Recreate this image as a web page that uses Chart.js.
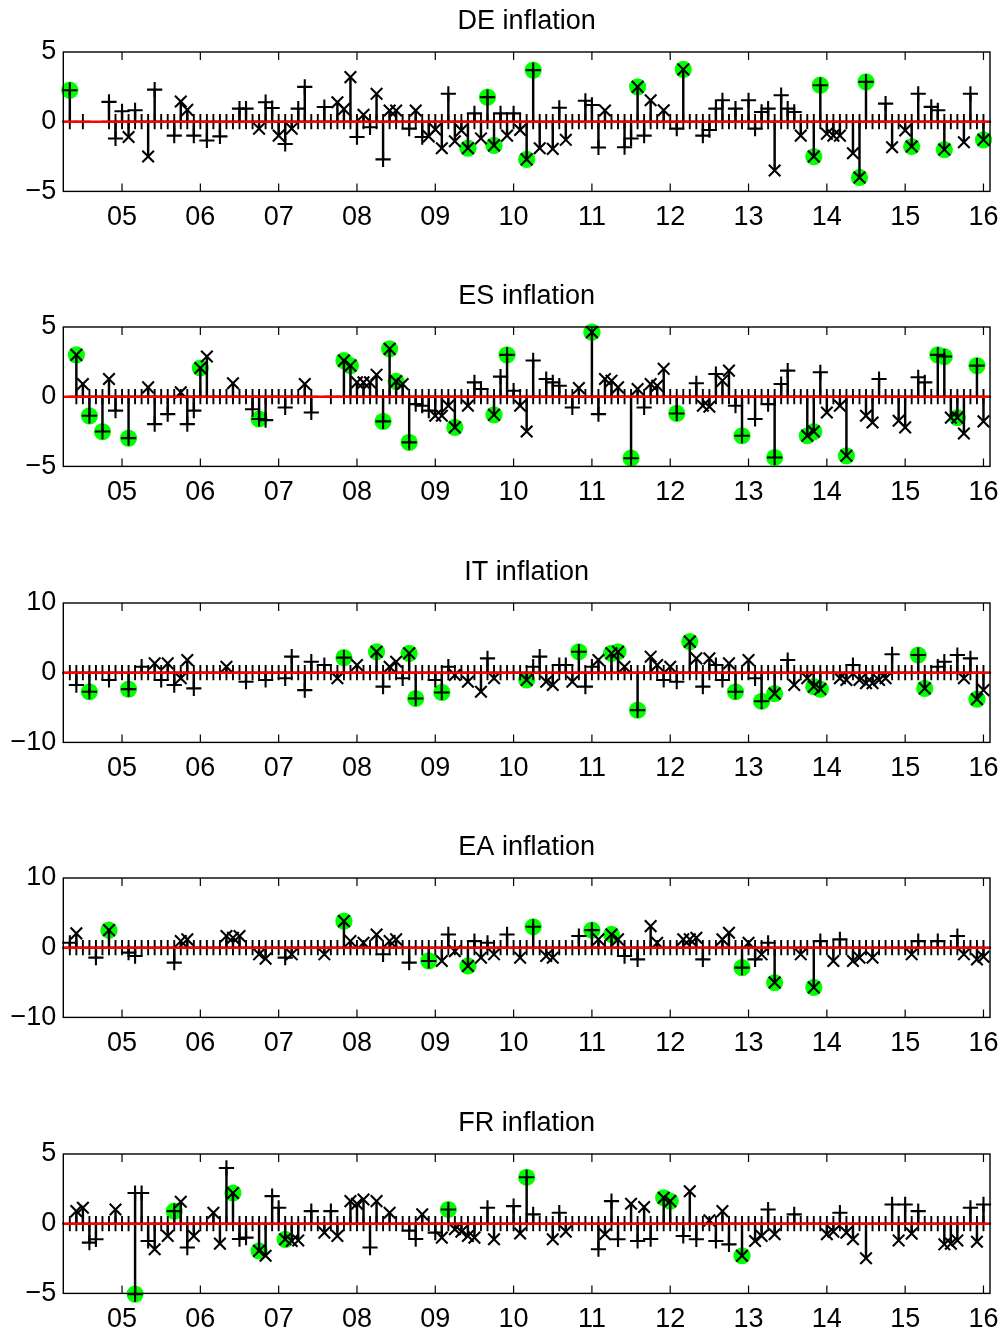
<!DOCTYPE html>
<html>
<head>
<meta charset="utf-8">
<script src="https://cdn.jsdelivr.net/npm/chart.js@4.4.1/dist/chart.umd.min.js"></script>
<style>
html, body { margin:0; padding:0; background:#fff; width:1004px; height:1333px; overflow:hidden; }
canvas { position:absolute; left:0; }
</style>
</head>
<body>
<script>
// ---------------- DATA ----------------
// x = months counted from Jan 2005 (0 = Jan 2005, 12 = Jan 2006 ...). Points: [month, value, green flag]
const titles = ['DE inflation', 'ES inflation', 'IT inflation', 'EA inflation', 'FR inflation'];
const yearLabels = ['05','06','07','08','09','10','11','12','13','14','15','16'];
const yearTickMonths = [0,12,24,36,48,60,72,84,96,108,120,132];
const firstMonth = -8;   // May 2004
const lastMonth = 132;   // Jan 2016
const axisMinMonth = -9, axisMaxMonth = 133;
const yTicksSmall = [-5, 0, 5];
const yTicksLarge = [-10, 0, 10];

const DE_plus = [[-8,2.26,1],[-2,1.42],[-1,-1.2],[0,0.75],[2,0.82],[5,2.3],[8,-1.0],[11,-1.0],[13,-1.35],[15,-1.05],[18,0.94],[19,0.94],[22,1.4],[23,0.98],[25,-1.6],[27,0.94],[28,2.5],[31,1.05],[36,-1.1],[38,-0.4],[40,-2.7],[44,-0.5],[46,-1.1],[50,2.0],[54,0.6],[56,1.76,1],[58,0.6],[60,0.6],[63,3.7,1],[67,1.0],[71,1.5],[72,1.2],[73,-1.85],[77,-1.83],[78,-1.2],[80,-1.0],[85,-0.5],[89,-1.0],[90,-0.6],[91,0.94],[92,1.54],[94,0.94],[96,1.54],[97,-0.5],[98,0.7],[99,0.94],[101,1.9],[102,0.94],[103,0.7],[107,2.62,1],[114,2.86,1],[117,1.3],[122,2.0],[124,1.06],[125,0.82],[130,2.0]];
const DE_cross = [[1,-1.1],[4,-2.5],[9,1.45],[10,0.85],[21,-0.5],[24,-1.0],[26,-0.5],[33,1.4],[34,0.9],[35,3.2],[37,0.5],[39,2.0],[41,0.8],[42,0.8],[45,0.8],[47,-1.05],[48,-0.55],[49,-1.9],[51,-1.4],[52,-0.62],[53,-1.9,1],[55,-1.2],[57,-1.7,1],[59,-1.0],[61,-0.6],[62,-2.7,1],[64,-1.9],[66,-1.95],[68,-1.3],[74,0.8],[79,2.5,1],[81,1.54],[83,0.82],[86,3.75,1],[100,-3.5],[104,-1.0],[106,-2.5,1],[108,-0.87],[109,-1.0],[110,-1.0],[112,-2.26],[113,-4.0,1],[118,-1.83],[120,-0.62],[121,-1.78,1],[126,-2.0,1],[129,-1.47],[132,-1.3,1]];
const DE_gaps = [-7,-5,-4,-3];

const ES_plus = [[-5,-1.37,1],[-3,-2.5,1],[-1,-1.0],[1,-2.97,1],[5,-1.97],[7,-1.25],[10,-1.97],[11,-1.0],[20,-0.9],[21,-1.6,1],[22,-1.68],[25,-0.77],[29,-1.13],[40,-1.77,1],[44,-3.28,1],[45,-0.53],[46,-0.65],[47,-1.0],[54,1.03],[55,0.55],[58,1.44],[59,3.0,1],[60,0.43],[63,2.6],[65,1.27],[66,1.03],[67,0.79],[69,-0.77],[73,-1.25],[78,-4.41,1],[80,-0.77],[85,-1.2,1],[88,0.96],[91,1.63],[94,-0.65],[95,-2.8,1],[97,-1.6],[99,-0.53],[100,-4.36,1],[101,0.91],[102,1.87],[107,1.75],[116,1.27],[122,1.39],[123,1.03],[125,3.0,1],[126,2.88,1],[131,2.23,1]];
const ES_cross = [[-7,3.0,1],[-6,0.91],[-2,1.27],[4,0.67],[9,0.31],[12,2.06,1],[13,2.88],[17,0.96],[28,0.91],[34,2.59,1],[35,2.23,1],[36,1.03],[37,1.03],[38,1.03],[39,1.58],[41,3.43,1],[42,1.1,1],[43,0.91],[48,-1.37],[49,-1.37],[50,-0.65],[51,-2.2,1],[53,-0.65],[57,-1.3,1],[61,-0.65],[62,-2.5],[70,0.62],[72,4.63,1],[74,1.27],[75,1.15],[76,0.67],[79,0.55],[81,0.91],[82,0.79],[83,2.0],[89,-0.65],[90,-0.72],[92,1.15],[93,1.87],[105,-2.8,1],[106,-2.5,1],[108,-1.13],[110,-0.65],[111,-4.24,1],[114,-1.37],[115,-1.85],[119,-1.73],[120,-2.2],[127,-1.5],[128,-1.5,1],[129,-2.64],[132,-1.77]];
const ES_gaps = [-8,30,31,33];

const IT_plus = [[-7,-1.77],[-5,-2.73,1],[-2,-1.05],[1,-2.35,1],[3,0.86],[6,-1.05],[8,-1.77],[11,-2.25],[19,-1.3],[22,-1.05],[25,-0.8],[26,2.3],[28,-2.5],[29,1.58],[31,1.1],[34,2.16,1],[40,-2.0],[43,-0.8],[45,-3.7,1],[48,-1.05],[49,-2.83,1],[50,0.86],[56,2.06],[63,0.86],[64,2.3],[67,1.1],[68,1.1],[70,3.0,1],[71,-2.0],[72,0.86],[79,-5.37,1],[83,-1.05],[85,-1.3],[89,-2.0],[91,1.1],[92,-1.05],[94,-2.73,1],[97,-0.8],[98,-4.1,1],[102,1.82],[112,1.1],[118,2.64],[122,2.54,1],[125,0.86],[126,1.58],[128,2.54],[130,2.06]];
const IT_cross = [[5,1.34],[7,1.34],[9,-0.8],[10,1.82],[16,0.86],[33,-0.8],[36,1.1],[39,3.0,1],[41,0.86],[42,1.58],[44,2.78,1],[51,-0.33],[53,-1.3],[55,-2.73],[57,-0.8],[62,-1.05,1],[65,-1.3],[66,-1.77],[69,-1.3],[73,1.82],[75,2.78,1],[76,3.0,1],[77,0.86],[81,2.3],[82,1.1],[84,0.86],[87,4.46,1],[88,2.06],[90,2.06],[93,1.34],[96,1.82],[100,-3.0,1],[103,-1.77],[105,-0.8],[106,-2.0,1],[107,-2.35,1],[110,-0.8],[111,-1.05],[113,-1.05],[114,-1.5],[115,-1.5],[116,-1.05],[117,-0.8],[123,-2.25,1],[129,-0.8],[131,-3.8,1],[132,-2.5]];
const IT_gaps = [];

const EA_plus = [[-8,0.7],[-4,-1.43],[1,-0.7],[2,-1.2],[8,-2.14],[25,-1.43],[40,-0.95],[44,-2.14],[47,-1.9,1],[50,1.9],[54,0.95],[56,0.7],[59,1.9],[63,3.0,1],[70,1.67],[72,2.52,1],[77,-1.2],[79,-1.67],[89,-1.67],[95,-2.86,1],[97,-1.67],[99,0.7],[107,0.95],[110,1.19],[122,0.95],[125,0.95],[128,1.67]];
const EA_cross = [[-7,2.05],[-2,2.52,1],[9,0.95],[10,1.19],[16,1.67],[17,1.43],[18,1.67],[21,-0.95],[22,-1.57],[26,-0.95],[31,-0.95],[34,3.81,1],[35,0.95],[37,0.7],[39,1.9],[41,0.95],[42,1.19],[49,-1.9],[51,-0.5],[53,-2.62,1],[55,-1.43],[57,-0.95],[61,-1.43],[65,-1.2],[66,-1.43],[73,1.19],[75,1.9,1],[76,1.19],[81,3.1],[82,0.7],[86,1.19],[87,1.19],[88,1.43],[92,1.19],[93,2.14],[96,0.7],[98,-0.95],[100,-5.0,1],[104,-0.95],[106,-5.7,1],[109,-1.9],[112,-1.9],[113,-1.43],[115,-1.43],[121,-0.95],[129,-0.95],[131,-1.67],[132,-1.3]];
const EA_gaps = [];

const FR_plus = [[-5,-1.36],[-4,-1.12],[2,2.2],[2,-5.05,1],[3,2.2],[4,-1.24],[8,0.9,1],[10,-1.71],[16,4.0],[18,-1.1],[19,-1.0],[23,1.98],[24,1.14],[29,0.9],[32,0.9],[38,-1.71],[44,-0.5],[45,-1.1],[48,-0.64],[50,1.02,1],[56,1.14],[60,1.26],[62,3.33,1],[63,0.67],[67,0.79],[73,-1.83],[75,1.62],[76,-1.12],[79,-1.24],[81,-1.1],[86,-0.88],[88,-1.12],[91,-1.24],[93,-1.48],[99,1.02],[103,0.67],[110,0.79],[118,1.38],[120,1.38],[122,0.9],[130,1.14],[132,1.38]];
const FR_cross = [[-7,0.9],[-6,1.14],[-1,1.02],[5,-1.83],[7,-0.88],[9,1.57],[11,-0.88],[14,0.79],[15,-1.43],[17,2.2,1],[21,-1.95,1],[22,-2.3],[25,-1.12,1],[26,-1.24],[27,-1.2],[31,-0.64],[33,-0.88],[35,1.62],[36,1.43],[37,1.74],[39,1.62],[41,0.79],[46,0.67],[49,-1.0],[51,-0.4],[52,-0.57],[53,-0.88],[54,-1.0],[57,-1.12],[61,-0.7],[66,-1.12],[68,-0.57],[74,-0.76],[78,1.43],[80,1.2],[83,1.86,1],[84,1.62,1],[87,2.33],[90,0.24],[92,0.9],[95,-2.3,1],[97,-1.24],[98,-0.88],[100,-0.76],[108,-0.76],[109,-0.57],[111,-0.64],[112,-1.12],[114,-2.48],[119,-1.2],[121,-0.71],[126,-1.48],[127,-1.43],[128,-1.2],[131,-1.29]];
const FR_gaps = [];

// ---------------- LAYOUT ----------------
const FONT = "'Liberation Sans', Arial, Helvetica, sans-serif";
const panelTops = [51.7, 327.3, 603.3, 878.3, 1154.3];
const plotHeight = 139.4;
const plotLeft = 63.3;
const plotRight = 990;
const titleBand = 52;
const canvasH = 276;
const W = 1004;

const panels = [
  { title: titles[0], plus: DE_plus, cross: DE_cross, gaps: DE_gaps, yTicks: yTicksSmall },
  { title: titles[1], plus: ES_plus, cross: ES_cross, gaps: ES_gaps, yTicks: yTicksSmall },
  { title: titles[2], plus: IT_plus, cross: IT_cross, gaps: IT_gaps, yTicks: yTicksLarge },
  { title: titles[3], plus: EA_plus, cross: EA_cross, gaps: EA_gaps, yTicks: yTicksLarge },
  { title: titles[4], plus: FR_plus, cross: FR_cross, gaps: FR_gaps, yTicks: yTicksSmall },
];

const framePlugin = {
  id: 'frame',
  afterDatasetsDraw(chart) {
    const { ctx, chartArea: a, scales } = chart;
    const x = scales.x, y = scales.y;
    ctx.save();
    const y0 = y.getPixelForValue(0);
    ctx.strokeStyle = '#ff0000';
    ctx.lineWidth = 2.6;
    ctx.beginPath(); ctx.moveTo(a.left, y0); ctx.lineTo(a.right, y0); ctx.stroke();
    ctx.strokeStyle = '#000';
    ctx.lineWidth = 1.4;
    ctx.strokeRect(a.left, a.top, a.right - a.left, a.bottom - a.top);
    ctx.lineWidth = 1.2;
    ctx.beginPath();
    x.ticks.forEach(t => {
      const px = x.getPixelForValue(t.value);
      ctx.moveTo(px, a.bottom); ctx.lineTo(px, a.bottom - 8);
      ctx.moveTo(px, a.top); ctx.lineTo(px, a.top + 8);
    });
    ctx.stroke();
    ctx.restore();
  }
};

panels.forEach((p, k) => {
  const c = document.createElement('canvas');
  c.width = W; c.height = canvasH;
  c.style.top = (panelTops[k] - titleBand) + 'px';
  c.style.width = W + 'px'; c.style.height = canvasH + 'px';
  document.body.appendChild(c);

  const toXY = d => ({ x: d[0], y: d[1] });
  const all = p.plus.concat(p.cross);
  const hatch = [];
  for (let m = firstMonth; m <= lastMonth; m++) {
    if (!p.gaps.includes(m)) hatch.push({ x: m, y: 0 });
  }
  const ptCommon = { showLine: false, clip: false, pointBorderColor: '#000', pointBackgroundColor: 'rgba(0,0,0,0)', pointHoverRadius: 0 };

  new Chart(c, {
    type: 'scatter',
    data: {
      datasets: [
        Object.assign({ label: 'x', data: p.cross.map(toXY), pointStyle: 'crossRot', pointRadius: 8.2, pointBorderWidth: 2.1, order: 1 }, ptCommon),
        Object.assign({ label: '+', data: p.plus.map(toXY), pointStyle: 'cross', pointRadius: 7.6, pointBorderWidth: 2.1, order: 2 }, ptCommon),
        Object.assign({ label: 'zero', data: hatch, pointStyle: 'cross', pointRadius: 7.6, pointBorderWidth: 1.9, order: 3 }, ptCommon),
        { type: 'bar', label: 'stem', data: all.map(toXY), backgroundColor: '#000', borderWidth: 0, barThickness: 1.8, grouped: false, order: 4, clip: false },
        { label: 'sig', data: all.filter(d => d[2]).map(toXY), pointStyle: 'circle', pointRadius: 8.6, pointBorderWidth: 0, pointBackgroundColor: '#00ff00', pointHoverRadius: 0, showLine: false, clip: false, order: 5 },
      ]
    },
    options: {
      responsive: false,
      animation: false,
      devicePixelRatio: 1,
      events: [],
      layout: { padding: { left: 0, right: W - plotRight, top: 0, bottom: 0 } },
      plugins: {
        legend: { display: false },
        tooltip: { enabled: false },
        title: {
          display: true, text: p.title, color: '#000', fullSize: false,
          font: { family: FONT, size: 27, weight: 'normal' },
          padding: { top: 5.8, bottom: 13.8 }
        }
      },
      scales: {
        x: {
          type: 'linear', min: axisMinMonth, max: axisMaxMonth, offset: false,
          grid: { display: false, drawTicks: false }, border: { display: false },
          afterBuildTicks: s => { s.ticks = yearTickMonths.map(v => ({ value: v })); },
          afterFit: s => {
            s.height = canvasH - titleBand - plotHeight;
            s.paddingLeft = 0; s.paddingRight = 0; s.paddingTop = 0; s.paddingBottom = 0;
          },
          ticks: { autoSkip: false, maxRotation: 0, padding: 10, color: '#000',
                   font: { family: FONT, size: 27 }, callback: (v, i) => yearLabels[i] }
        },
        y: {
          type: 'linear', min: p.yTicks[0], max: p.yTicks[p.yTicks.length - 1],
          grid: { display: false, drawTicks: false }, border: { display: false },
          afterBuildTicks: s => { s.ticks = p.yTicks.map(v => ({ value: v })); },
          afterFit: s => {
            s.width = plotLeft;
            s.paddingLeft = 0; s.paddingRight = 0; s.paddingTop = 0; s.paddingBottom = 0;
          },
          ticks: { padding: 7, color: '#000', font: { family: FONT, size: 27 },
                   callback: v => (v < 0 ? '\u2212' + Math.abs(v) : String(v)) }
        }
      }
    },
    plugins: [framePlugin]
  });
});
</script>
</body>
</html>
